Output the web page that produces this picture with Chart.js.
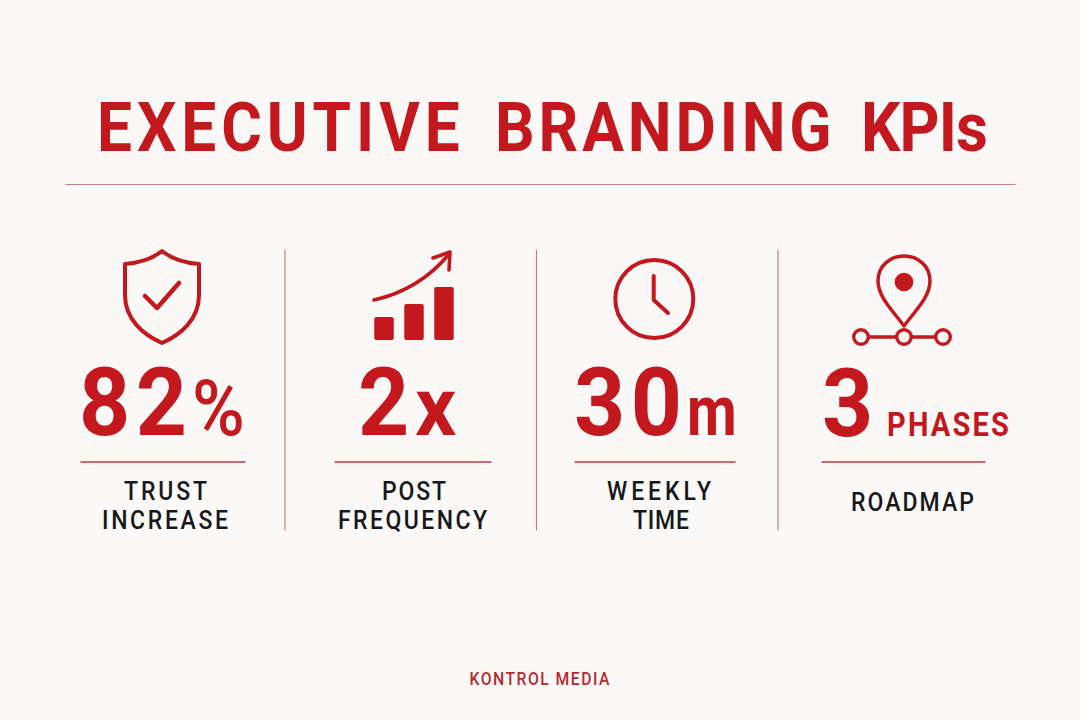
<!DOCTYPE html>
<html>

<head>
    <title>Executive Branding KPIs</title>
    <script src="https://cdn.jsdelivr.net/npm/chart.js"></script>
    <style>
        html, body { margin: 0; padding: 0; background: #fbf9f8; }
        #page { position: relative; width: 1080px; height: 720px; overflow: hidden; }
        #art { position: absolute; left: 0; top: 0; }
        #art text { font-family: Roboto, sans-serif; }
        #barBox { position: absolute; left: 369px; top: 287px; width: 90px; height: 53px; }
    </style>
</head>

<body>
    <div id="page">
        <svg id="art" width="1080" height="720" viewBox="0 0 1080 720" xmlns="http://www.w3.org/2000/svg"></svg>
        <div id="barBox"><canvas id="barChart"></canvas></div>
    </div>

    <script>
        // values
        const titleWords = ['EXECUTIVE', 'BRANDING', 'KPIs'];
        const footerText = 'KONTROL MEDIA';
        const kpiValues = [82, 2, 30, 3];
        const kpiUnits = ['%', 'x', 'm', 'PHASES'];
        const kpiLabels = [['TRUST', 'INCREASE'], ['POST', 'FREQUENCY'], ['WEEKLY', 'TIME'], ['ROADMAP']];
        // the little bars in the second icon
        const iconBarLabels = ['a', 'b', 'c'];
        const iconBarValues = [23, 36, 53];

        const RED = '#c3181e';
        const DARK = '#17181a';
        const RULE = '#cf7c80';

        // layout of each kpi column: number box, unit box, rule, label baselines
        const columns = [
            { num: [79, 108, 95], unit: [192, 54, 78, 500, 0.92], rule: [81, 245], labels: [[124, 83, 500], [102, 126, 529]] },
            { num: [358, 50, 95], unit: [415, 42, 81, 700, 1], rule: [335, 491], labels: [[382, 64, 500], [338, 149, 529]] },
            { num: [574, 108, 95], unit: [687, 52, 70, 700, 0.82], rule: [575, 735], labels: [[607, 104, 500], [633, 56, 529]] },
            { num: [822, 50, 95], unit: [887, 122, 33, 700, 0.88], rule: [822, 985], labels: [[851, 123, 511]] }
        ];
        const titleBoxes = [[97, 383], [495, 356], [861, 127]];
        const dividers = [285, 536.5, 778];

        const svg = document.getElementById('art');
        function add(tag, attrs, content) {
            const el = document.createElementNS('http://www.w3.org/2000/svg', tag);
            for (const k in attrs) el.setAttribute(k, attrs[k]);
            if (content !== undefined) el.textContent = content;
            svg.appendChild(el);
            return el;
        }
        // sx squeezes the glyphs, the spacing then stretches the word back to its box
        function text(str, x, y, len, size, weight, fill, sx) {
            return add('text', {
                transform: 'translate(' + x + ' ' + y + ') scale(' + sx + ' 1)',
                textLength: len / sx, lengthAdjust: 'spacing',
                'font-size': size, 'font-weight': weight, fill: fill
            }, str);
        }
        function line(x1, y1, x2, y2, color, w) {
            add('line', { x1, y1, x2, y2, stroke: color, 'stroke-width': w, 'stroke-linecap': 'round' });
        }
        function stroked(d, w) {
            add('path', { d: d, fill: 'none', stroke: RED, 'stroke-width': w, 'stroke-linecap': 'round', 'stroke-linejoin': 'round' });
        }

        // title as one text element, each word in its own box
        const titleSx = 0.9;
        const title = add('text', {
            transform: 'translate(0 151) scale(' + titleSx + ' 1)',
            'font-size': 69, 'font-weight': 700, fill: RED
        });
        titleWords.forEach((w, i) => {
            const t = document.createElementNS('http://www.w3.org/2000/svg', 'tspan');
            t.setAttribute('x', titleBoxes[i][0] / titleSx);
            t.setAttribute('textLength', titleBoxes[i][1] / titleSx);
            t.setAttribute('lengthAdjust', 'spacing');
            t.textContent = w + (i < titleWords.length - 1 ? ' ' : '');
            title.appendChild(t);
        });
        line(66, 184.5, 1015, 184.5, RULE, 1);

        dividers.forEach(x => line(x, 250, x, 530, RULE, 1.2));

        // kpi columns
        columns.forEach((c, i) => {
            const baseline = i === 3 ? 436 : 435;
            text(String(kpiValues[i]), c.num[0], baseline, c.num[1], c.num[2], 700, RED, 0.94);
            text(kpiUnits[i], c.unit[0], baseline, c.unit[1], c.unit[2], c.unit[3], RED, c.unit[4]);
            line(c.rule[0], 462, c.rule[1], 462, '#c0383d', 1.4);
            kpiLabels[i].forEach((lab, j) => {
                text(lab, c.labels[j][0], c.labels[j][2], c.labels[j][1], 25, 500, DARK, 0.92);
            });
        });

        // shield icon
        stroked('M162 251 C172 259 186 263 199 264 V295 C199 320 180 335 162 343 C144 335 125 320 125 295 V264 C138 263 152 259 162 251 Z', 4);
        stroked('M145 296 L157 308 L179 283', 4.5);

        // arrow over the bars
        stroked('M374 300 C405 293 430 277 449 254', 3.6);
        stroked('M433 258 L450 252 L449 270', 3.6);

        // clock icon
        add('circle', { cx: 654.3, cy: 299, r: 39, fill: 'none', stroke: RED, 'stroke-width': 4 });
        stroked('M653.7 276 V300 L668 313', 4);

        // pin icon with three stops
        stroked('M904 326 C893 311 878 297 878 281 C878 266 890 256 904 256 C918 256 930 266 930 281 C930 297 915 311 904 326 Z', 3.5);
        add('circle', { cx: 904, cy: 282, r: 9.3, fill: RED });
        line(869, 337, 896, 337, RED, 3.5);
        line(912, 337, 935, 337, RED, 3.5);
        [861, 904, 943].forEach(x => {
            add('circle', { cx: x, cy: 337, r: 7.3, fill: 'none', stroke: RED, 'stroke-width': 3.4 });
        });

        // footer
        text(footerText, 469.5, 685, 140, 17.5, 500, '#b52a2e', 0.9);

        // bars of the second icon
        const ctx = document.getElementById('barChart').getContext('2d');
        new Chart(ctx, {
            type: 'bar',
            data: {
                labels: iconBarLabels,
                datasets: [{
                    data: iconBarValues,
                    backgroundColor: RED,
                    borderRadius: 2,
                    borderSkipped: false,
                    barPercentage: 0.65,
                    categoryPercentage: 1
                }]
            },
            options: {
                responsive: true,
                maintainAspectRatio: false,
                animation: false,
                layout: { padding: 0 },
                plugins: { legend: { display: false }, tooltip: { enabled: false } },
                scales: {
                    x: { display: false },
                    y: { display: false, min: 0, max: 53 }
                }
            }
        });
    </script>
</body>

</html>
